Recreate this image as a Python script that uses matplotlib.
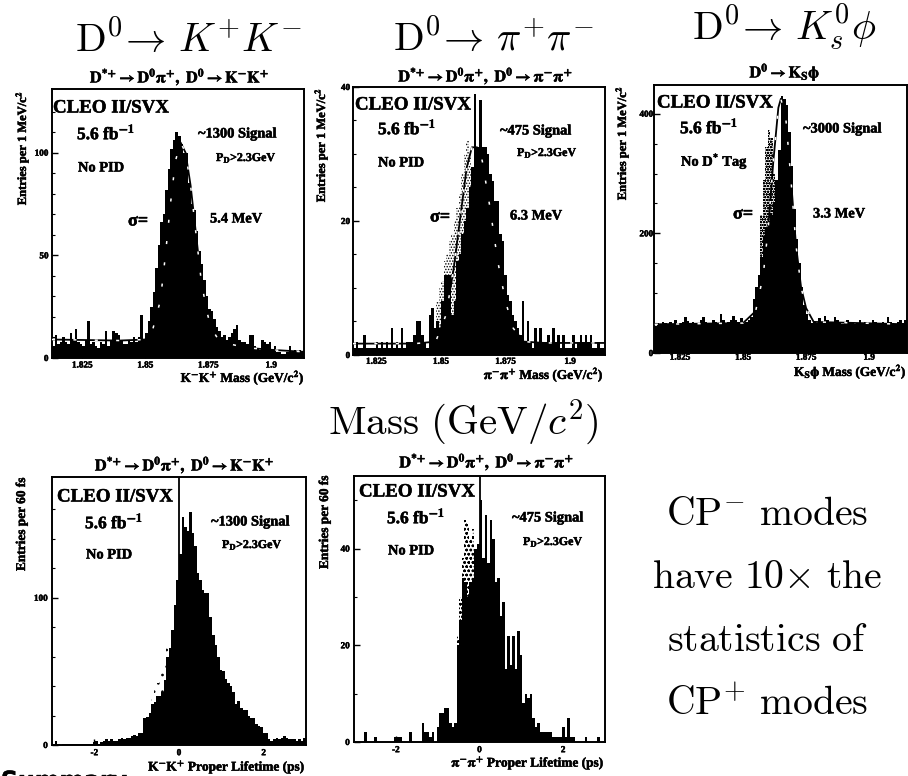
import numpy as np
import matplotlib
matplotlib.use("Agg")
import matplotlib.pyplot as plt
import matplotlib.patheffects as pe

plt.rcParams['font.family'] = ['Liberation Serif', 'DejaVu Serif']
plt.rcParams['font.weight'] = 'bold'
plt.rcParams['hatch.linewidth'] = 0.7

W, H = 908, 776

# ---- data ----
kk_mass = [6,11,7,8,10,8,7,12,9,14, 8,7,6,9,18,7,8,6,5,8, 7,13,6,9,13,12,11,9,7,7,
           9,8,10,8,10,21,9,12,18,25, 32,44,55,66,70,82,92,102,106,110,
           108,104,100,100,85,75,72,62,52,46, 38,30,24,23,19,15,13,10,11,9,
           10,12,14,16,9,8,8,7,11,11, 6,5,4,9,8,7,8,4,6,3, 3,2,2,3,6,3,4,3,4,3]
pp_mass = [1,2,1,1,3,1,1,1,1,2, 1,2,1,2,1,4,1,2,1,4, 1,2,2,2,3,5,5,3,2,1,
           6,7,4,5,4,8,12,12,12,6, 8,14,15,18,20,22,25,28,39,31,
           38,31,31,30,27,26,23,23,18,17, 12,9,8,6,5,4,3,8,2,5,
           2,1,4,2,4,2,2,3,2,4, 2,3,1,3,1,1,1,3,1,2, 3,2,3,2,3,1,1,2,1,1]
ks_mass = [45,50,48,52,50,47,52,48,55,50, 50,52,60,54,50,52,48,50,55,60,
           52,48,50,55,52,50,65,55,48,52, 55,62,55,52,58,50,52,55,60,90,
           110,130,160,195,210,220,230,250,290,340,
           430,425,415,370,312,240,190,150,110,80,
           65,55,50,52,50,58,50,62,55,50, 52,60,55,50,48,52,55,50,52,48,
           50,55,50,52,48,50,55,52,50,48, 52,50,60,52,50,48,52,55,50,55]
kk_life = [1,3,1,0,1,1,1,1,1,1, 1,1,1,1,1,1,2,3,1,2, 3,4,3,4,3,3,4,5,4,5,
           5,6,7,6,8,8,18,19,22,28, 29,33,33,36,44,60,66,78,95,112,
           130,155,148,145,158,144,135,117,112,105, 103,103,87,75,68,60,51,50,45,42,
           40,36,28,30,25,24,24,20,18,18, 14,13,12,8,8,4,3,4,5,4, 5,6,5,4,4,4,3,4,3,5]
pp_life = [0,0,0,0,2,0,0,0,1,0, 0,0,0,0,0,0,1,1,1,0, 0,0,2,0,0,0,0,4,2,2,
           1,2,0,3,6,6,7,7,4,3, 4,20,25,34,33,30,33,34,40,41,
           50,38,47,37,46,42,33,34,26,29, 15,22,16,22,15,23,18,8,10,9,
           10,5,3,4,2,2,2,2,2,1, 1,1,1,3,1,5,1,1,0,0, 0,0,1,0,0,0,0,1,0,0]

# faint bleed-through from the reverse of the scanned page: (first bin, heights)
pp_mass_ghost = (33, [8,10,11,14,15,17,18,20,22,24,27,30,32,30])
ks_mass_ghost = (42, [230,290,345,372,360,300])
kk_life_ghost = (38, [26,34,38,42,48,52,62,70])
pp_life_ghost = (41, [22,30,38,46,45,42,44,38])

# fit curves
kk_fit_x = [1.813,1.84,1.850,1.853,1.856,1.858,1.860,1.862,1.864,1.866,1.868,1.870,1.872,1.874,1.876,1.879,1.883,1.89,1.90,1.913]
kk_fit_y = [9,8.5,9,14,28,50,75,96,105,100,84,62,40,25,15,9,7,5,4,3]
pp_fit_x = [1.816,1.84,1.848,1.852,1.855,1.858,1.860,1.862,1.864,1.866,1.869,1.872,1.875,1.878,1.882,1.89,1.914]
pp_fit_y = [1.7,1.7,2,6,13,22,28,31,31,29,22,14,8,4,2,1.8,1.8]
ks_fit_x = [1.815,1.85,1.855,1.858,1.860,1.862,1.864,1.865,1.867,1.869,1.871,1.873,1.875,1.878,1.915]
ks_fit_y = [48,50,70,130,210,320,410,425,390,290,180,110,75,52,48]

mass_ticks = [1.825, 1.85, 1.875, 1.9]
mass_tick_labels = ['1.825', '1.85', '1.875', '1.9']
life_ticks = [-2, 0, 2]
life_tick_labels = ['-2', '0', '2']

fig = plt.figure(figsize=(W/100, H/100), dpi=100, facecolor='white')
SMEAR = [pe.withStroke(linewidth=0.35, foreground='black')]


def T(x, y, s, size=8, ha='left', va='center', **kw):
    t = fig.text(x/W, 1-y/H, s, fontsize=size, ha=ha, va=va, **kw)
    if size < 20:
        t.set_path_effects(SMEAR)
    return t


def panel(box, xlim, ylim, vals, xticks, xlabels, yticks, yminor, ghost=None, hatch='......',
          fit=None, zero=False, pad=3):
    l, r, t, b = box
    ax = fig.add_axes([l/W, 1-b/H, (r-l)/W, (b-t)/H])
    ax.set_xlim(xlim); ax.set_ylim(ylim)
    edges = np.linspace(xlim[0], xlim[1], len(vals)+1)
    if ghost is not None:
        i0, g = ghost
        ge = edges[i0:i0+len(g)+1]
        ax.bar(ge[:-1], g, width=np.diff(ge), align='edge', facecolor='none',
               edgecolor='black', hatch=hatch, linewidth=0, zorder=1)
    ax.stairs(vals, edges, fill=True, color='black', zorder=2)
    if fit is not None:
        ax.plot(fit[0], fit[1], color='black', lw=1.3, zorder=2.5)
        ax.plot(fit[0], fit[1], color='white', lw=1.1, dashes=(2, 12), zorder=3)
    if zero:
        ax.axvline(0, color='black', lw=1.3, zorder=3)
    ax.set_xticks(xticks); ax.set_xticklabels(xlabels)
    ax.set_yticks(yticks); ax.set_yticklabels([str(v) for v in yticks])
    ax.set_yticks(yminor, minor=True)
    ax.tick_params(axis='both', which='major', direction='in', length=4, width=1,
                   labelsize=6.6, pad=pad)
    ax.tick_params(axis='y', which='minor', direction='in', length=2, width=0.8)
    for s in ax.spines.values():
        s.set_linewidth(1.4)
    for lab in ax.get_xticklabels() + ax.get_yticklabels():
        lab.set_fontweight('bold')
        lab.set_path_effects(SMEAR)
    return ax


panel((52, 304, 89, 358), (1.813, 1.913), (0, 131), kk_mass, mass_ticks, mass_tick_labels,
      [0, 50, 100], list(range(10, 130, 10)), fit=(kk_fit_x, kk_fit_y), pad=2.5)
panel((353, 605, 87, 355), (1.816, 1.9135), (0, 40), pp_mass, mass_ticks, mass_tick_labels,
      [0, 20, 40], list(range(5, 40, 5)), ghost=pp_mass_ghost, fit=(pp_fit_x, pp_fit_y), pad=2)
panel((654, 907, 85, 353), (1.8147, 1.915), (0, 448), ks_mass, mass_ticks, mass_tick_labels,
      [0, 200, 400], list(range(50, 450, 50)), ghost=ks_mass_ghost, hatch='oooooo',
      fit=(ks_fit_x, ks_fit_y), pad=0.5)
panel((52, 306, 477, 745), (-3, 3), (0, 182), kk_life, life_ticks, life_tick_labels,
      [0, 100], list(range(20, 180, 20)), ghost=kk_life_ghost, hatch='..', zero=True)
panel((354, 605, 476, 742), (-3, 3), (0, 55), pp_life, life_ticks, life_tick_labels,
      [0, 20, 40], list(range(10, 55, 10)), ghost=pp_life_ghost, hatch='oooo', zero=True)

# ---- large hand-written slide text ----
big = dict(size=29, va='baseline', math_fontfamily='cm')
T(75, 52, r'$\mathrm{D}^{0}\!\rightarrow\,K^{+}K^{-}$', **big)
T(393, 51, r'$\mathrm{D}^{0}\!\rightarrow\,\pi^{+}\pi^{-}$', **big)
T(692, 40, r'$\mathrm{D}^{0}\!\rightarrow\,K_s^{0}\phi$', **big)
T(463, 435, r'$\mathrm{Mass\ (GeV/}c^{2}\mathrm{)}$', size=29.5, ha='center', va='baseline', math_fontfamily='cm')
for y, s in zip([525, 588, 651, 715],
                [r'$\mathrm{CP}^{-}\ \mathrm{modes}$', r'$\mathrm{have\ 10{\times}\ the}$',
                 r'$\mathrm{statistics\ of}$', r'$\mathrm{CP}^{+}\ \mathrm{modes}$']):
    T(767, y, s, size=28.6, ha='center', va='baseline', math_fontfamily='cm')

# partly cut-off heading at the lower edge of the scan
T(1, 788, 'Summary', size=17, va='baseline', family='DejaVu Sans')

# ---- panel captions ----
st = dict(size=11.6, ha='center', math_fontfamily='stix')
cap_kk = r'$\mathbf{D}^{\mathbf{*}\mathbf{+}}\rightarrow\mathbf{D}^{\mathbf{0}}\mathbf{\pi}^{\mathbf{+}},\ \mathbf{D}^{\mathbf{0}}\rightarrow\mathbf{K}^{\mathbf{-}}\mathbf{K}^{\mathbf{+}}$'
cap_pp = r'$\mathbf{D}^{\mathbf{*}\mathbf{+}}\rightarrow\mathbf{D}^{\mathbf{0}}\mathbf{\pi}^{\mathbf{+}},\ \mathbf{D}^{\mathbf{0}}\rightarrow\mathbf{\pi}^{\mathbf{-}}\mathbf{\pi}^{\mathbf{+}}$'
T(180, 77, cap_kk, **st)
T(486, 76, cap_pp, **st)
T(785, 72, r'$\mathbf{D}^{\mathbf{0}}\rightarrow\mathbf{K}_{\mathbf{S}}\mathbf{\phi}$', **st)
T(185, 465, cap_kk, **st)
T(487, 462, cap_pp, **st)

mm = dict(math_fontfamily='stix')
lum = r'5.6 fb$^{\mathbf{-1}}$'
pd = r'P$_{\mathbf{D}}$>2.3GeV'
C, L, S, P, N, G, M = 13.6, 12.5, 10.4, 8.6, 10.4, 13, 10.4
T(53, 108, 'CLEO II/SVX', C); T(77, 133, lum, L, **mm); T(198, 134, '~1300 Signal', S); T(216, 158, pd, P, **mm)
T(78, 168, 'No PID', N); T(128, 221, 'σ=', G); T(210, 219, '5.4 MeV', M)
T(355, 105, 'CLEO II/SVX', C); T(378, 128, lum, L, **mm); T(500, 131, '~475 Signal', S); T(517, 153, pd, P, **mm)
T(378, 163, 'No PID', N); T(430, 217, 'σ=', G); T(510, 216, '6.3 MeV', M)
T(657, 103, 'CLEO II/SVX', C); T(680, 127, lum, L, **mm); T(803, 129, '~3000 Signal', S)
T(681, 161, r'No D$^{\mathbf{*}}$ Tag', N, **mm); T(733, 214, 'σ=', G); T(813, 214, '3.3 MeV', M)
T(57, 497, 'CLEO II/SVX', C); T(85, 522, lum, L, **mm); T(211, 522, '~1300 Signal', S); T(222, 545, pd, P, **mm)
T(86, 555, 'No PID', N)
T(359, 492, 'CLEO II/SVX', C); T(387, 517, lum, L, **mm); T(512, 518, '~475 Signal', S); T(523, 542, pd, P, **mm)
T(388, 551, 'No PID', N)

# ---- axis titles ----
xl = dict(size=9.6, ha='right', math_fontfamily='stix')
T(305, 378, r'K$^{\mathbf{-}}$K$^{\mathbf{+}}$ Mass (GeV/c$^{\mathbf{2}}$)', **xl)
T(604, 375, r'$\mathbf{\pi}^{\mathbf{-}}\mathbf{\pi}^{\mathbf{+}}$ Mass (GeV/c$^{\mathbf{2}}$)', **xl)
T(907, 372, r'K$_{\mathbf{S}}\mathbf{\phi}$ Mass (GeV/c$^{\mathbf{2}}$)', **xl)
T(306, 767, r'K$^{\mathbf{-}}$K$^{\mathbf{+}}$ Proper Lifetime (ps)', **xl)
T(605, 763, r'$\mathbf{\pi}^{\mathbf{-}}\mathbf{\pi}^{\mathbf{+}}$ Proper Lifetime (ps)', **xl)

yl = dict(size=9, ha='center', rotation=90, math_fontfamily='stix')
T(22, 148, r'Entries per 1 MeV/c$^{\mathbf{2}}$', **yl)
T(321, 145, r'Entries per 1 MeV/c$^{\mathbf{2}}$', **yl)
T(622, 143, r'Entries per 1 MeV/c$^{\mathbf{2}}$', **yl)
T(22, 524, 'Entries per 60 fs', size=9.6, ha='center', rotation=90)
T(325, 522, 'Entries per 60 fs', size=9.6, ha='center', rotation=90)

fig.savefig('out.png', dpi=100, facecolor='white')
